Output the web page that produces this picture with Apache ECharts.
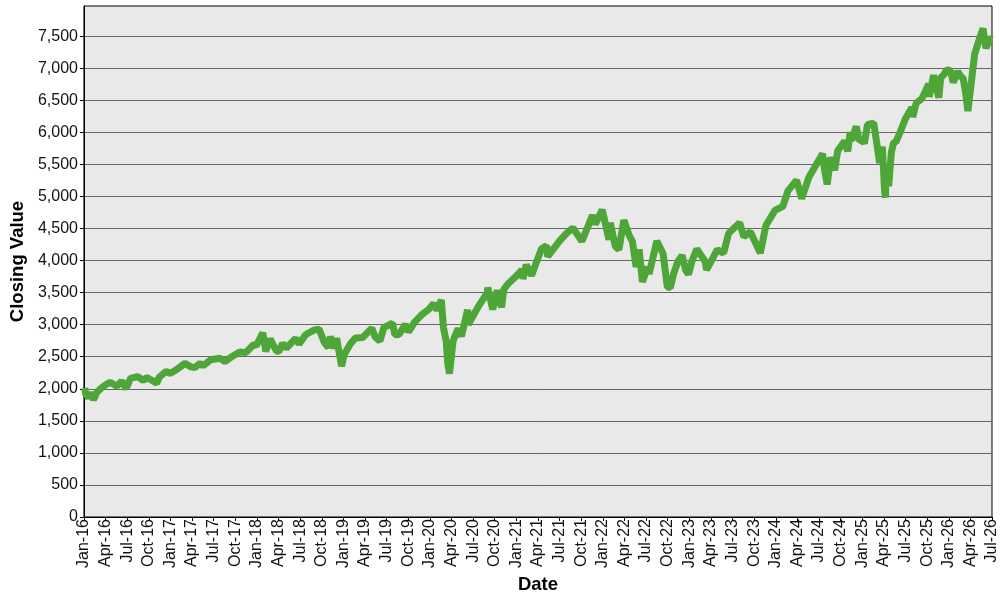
<!DOCTYPE html>
<html>
<head>
<meta charset="utf-8">
<script src="https://cdn.jsdelivr.net/npm/echarts@6/dist/echarts.min.js"></script>
<style>
html,body{margin:0;padding:0;background:#fff;}
#chart{width:1000px;height:600px;}
</style>
</head>
<body>
<div id="chart"></div>
<script>
const monthNames = ['Jan','Feb','Mar','Apr','May','Jun','Jul','Aug','Sep','Oct','Nov','Dec'];
const yTicks = [0,500,1000,1500,2000,2500,3000,3500,4000,4500,5000,5500,6000,6500,7000,7500];
const dates = [
'2016-01-04','2016-01-08','2016-01-20','2016-01-29','2016-02-11','2016-02-26','2016-03-15','2016-03-31','2016-04-20','2016-05-19','2016-06-08','2016-06-27','2016-07-15','2016-08-15','2016-09-09','2016-09-22','2016-10-14','2016-11-04','2016-11-15','2016-12-13','2016-12-30',
'2017-01-26','2017-02-15','2017-03-01','2017-03-27','2017-04-13','2017-05-05','2017-05-17','2017-06-19','2017-07-27','2017-08-18','2017-09-20','2017-10-20','2017-11-15','2017-12-18','2017-12-29',
'2018-01-26','2018-02-08','2018-02-26','2018-03-23','2018-04-02','2018-04-18','2018-05-03','2018-06-12','2018-06-27','2018-07-25','2018-08-29','2018-09-20','2018-10-11','2018-10-29','2018-11-07','2018-11-23','2018-12-03','2018-12-24',
'2019-01-04','2019-01-31','2019-02-22','2019-03-22','2019-04-30','2019-05-13','2019-06-03','2019-06-20','2019-07-26','2019-08-05','2019-08-23','2019-09-19','2019-10-02','2019-10-28','2019-11-27','2019-12-27',
'2020-01-17','2020-01-31','2020-02-19','2020-02-28','2020-03-09','2020-03-16','2020-03-23','2020-04-08','2020-04-29','2020-05-13','2020-06-08','2020-06-11','2020-07-22','2020-08-31','2020-09-02','2020-09-23','2020-10-12','2020-10-30','2020-11-09','2020-11-27','2020-12-31',
'2021-01-25','2021-01-29','2021-02-12','2021-03-04','2021-04-16','2021-05-07','2021-05-12','2021-06-30','2021-07-29','2021-08-27','2021-09-02','2021-10-04','2021-11-18','2021-11-30','2021-12-29',
'2022-01-03','2022-01-27','2022-02-02','2022-02-23','2022-03-08','2022-03-29','2022-04-21','2022-05-04','2022-05-20','2022-06-02','2022-06-16','2022-07-08','2022-07-14','2022-08-16','2022-09-12','2022-09-30','2022-10-12','2022-10-27','2022-11-15','2022-12-01','2022-12-16','2022-12-28',
'2023-01-13','2023-02-02','2023-03-07','2023-03-13','2023-04-28','2023-05-24','2023-06-15','2023-07-31','2023-08-18','2023-09-15','2023-10-27','2023-11-20','2023-12-28',
'2024-01-31','2024-02-22','2024-03-28','2024-04-19','2024-05-20','2024-06-18','2024-07-16','2024-07-24','2024-08-05','2024-08-19','2024-09-06','2024-09-19','2024-10-18','2024-10-31','2024-11-11','2024-11-15','2024-12-06','2024-12-18','2024-12-31',
'2025-01-10','2025-01-23','2025-02-19','2025-03-10','2025-03-13','2025-03-25','2025-04-04','2025-04-08','2025-04-09','2025-04-21','2025-05-02','2025-05-12','2025-05-21','2025-06-11','2025-06-30','2025-07-28','2025-08-01','2025-08-15','2025-09-10','2025-10-08','2025-10-10','2025-10-28','2025-11-07','2025-11-20','2025-11-28','2025-12-11','2025-12-24',
'2026-01-08','2026-01-20','2026-02-09','2026-02-20','2026-03-01','2026-03-12','2026-03-21','2026-04-07','2026-04-19','2026-05-10','2026-05-24','2026-06-06','2026-06-22','2026-07-01'
];
const closes = [
2012,1922,1859,1940,1829,1948,2015,2060,2102,2040,2119,2001,2162,2190,2128,2177,2133,2085,2180,2271,2239,
2296,2349,2396,2342,2329,2399,2357,2453,2475,2425,2508,2575,2564,2690,2674,
2873,2581,2780,2588,2582,2708,2630,2787,2700,2846,2914,2931,2728,2641,2813,2633,2790,2351,
2532,2704,2793,2800,2946,2812,2744,2954,3025,2844,2847,3006,2887,3039,3153,3240,
3330,3225,3386,2954,2746,2386,2237,2750,2939,2820,3232,3002,3276,3500,3580,3237,3534,3270,3550,3638,3756,
3855,3714,3934,3768,4185,4232,4063,4298,4419,4509,4537,4300,4704,4567,4793,
4796,4326,4589,4225,4170,4631,4393,4300,3901,4176,3667,3899,3790,4305,4110,3586,3577,3807,3992,4080,3852,3783,
3999,4180,3986,3855,4169,4115,4425,4589,4370,4450,4117,4547,4783,
4845,5087,5254,4967,5308,5487,5667,5427,5186,5608,5408,5713,5864,5705,6001,5870,6090,5872,5882,
5827,6119,6144,5614,5521,5777,5074,4982,5457,5158,5686,5844,5845,6022,6205,6389,6238,6450,6530,6753,6552,6890,6730,6540,6850,6900,6980,
6960,6780,6950,6880,6840,6600,6330,6840,7220,7470,7620,7310,7470,7450
];

function monthOffset(d){
  const p = d.split('-').map(Number);
  return (p[0]-2016)*12 + (p[1]-1) + (p[2]-1)/30.5;
}
const seriesData = dates.map((d,i)=>[monthOffset(d), closes[i]]);

const chart = echarts.init(document.getElementById('chart'), null, {renderer:'canvas'});
const font = 'Liberation Sans, Arial, sans-serif';
chart.setOption({
  animation:false,
  backgroundColor:'#ffffff',
  grid:{left:83, right:8, top:6, bottom:83, show:true, backgroundColor:'#e9e9e9', borderColor:'#000', borderWidth:1},
  xAxis:{
    type:'value', min:0, max:126, interval:3,
    name:'Date', nameLocation:'middle', nameGap:58,
    nameTextStyle:{fontFamily:font, fontSize:18.5, fontWeight:'bold', color:'#000'},
    axisLine:{show:true, lineStyle:{color:'#000', width:1}},
    axisTick:{show:true, length:4, lineStyle:{color:'#000'}},
    splitLine:{show:false},
    axisLabel:{
      rotate:90, margin:2, fontFamily:font, fontSize:16, color:'#111',
      showMinLabel:true, showMaxLabel:true,
      formatter:function(v){
        const m = Math.round(v);
        return monthNames[m%12] + '-' + String(16 + Math.floor(m/12));
      }
    }
  },
  yAxis:{
    type:'value', min:0, max:7970, interval:500,
    name:'Closing Value', nameLocation:'middle', nameGap:53, nameRotate:90,
    nameTextStyle:{fontFamily:font, fontSize:18.5, fontWeight:'bold', color:'#000'},
    axisLine:{show:true, lineStyle:{color:'#000', width:1}},
    axisTick:{show:true, length:4, customValues:yTicks, lineStyle:{color:'#000'}},
    splitLine:{show:true, lineStyle:{color:'#666', width:1}},
    axisLabel:{
      margin:6, fontFamily:font, fontSize:16, color:'#111',
      customValues:yTicks,
      formatter:function(v){
        if (v % 500 !== 0) return '';
        return v.toLocaleString('en-US');
      }
    }
  },
  series:[{
    type:'line',
    data:seriesData,
    showSymbol:false,
    symbol:'none',
    lineStyle:{color:'#4ea638', width:7, join:'bevel'},
    itemStyle:{color:'#4ea638'}
  }]
});
</script>
</body>
</html>
